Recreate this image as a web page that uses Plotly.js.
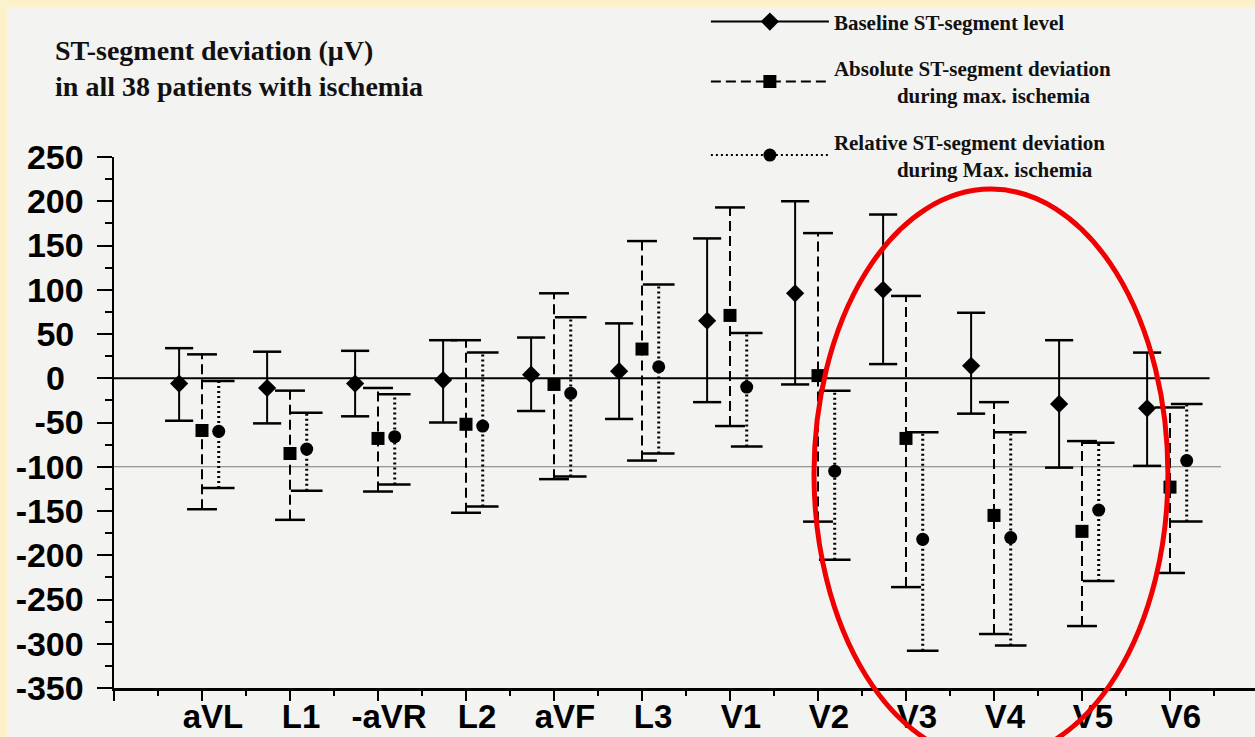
<!DOCTYPE html>
<html><head><meta charset="utf-8">
<script src="https://cdn.plot.ly/plotly-3.0.1.min.js"></script>
<style>
html,body{margin:0;padding:0;background:#fdf1cb;overflow:hidden;}
#chart{position:absolute;left:7px;top:7px;width:1248px;height:730px;}
</style></head>
<body><div id="chart"></div>
<script>
// ---- data (µV) ----
const leads = ['aVL','L1','-aVR','L2','aVF','L3','V1','V2','V3','V4','V5','V6'];
const baselineMean  = [-6, -11, -6, -2, 4, 8, 65, 96, 100, 14, -29, -34];
const baselineUpper = [34, 30, 31, 43, 46, 62, 158, 200, 185, 74, 43, 29];
const baselineLower = [-48, -51, -43, -50, -37, -46, -27, -7, 16, -40, -101, -99];
const absoluteMean  = [-59, -85, -68, -52, -7, 33, 71, 3, -68, -155, -173, -123];
const absoluteUpper = [27, -14, -11, 43, 96, 155, 193, 164, 93, -27, -71, -33];
const absoluteLower = [-148, -160, -128, -152, -114, -93, -54, -162, -236, -289, -280, -220];
const relativeMean  = [-60, -80, -66, -54, -17, 13, -10, -105, -182, -180, -149, -93];
const relativeUpper = [-3, -39, -18, 29, 69, 106, 51, -14, -61, -61, -73, -29];
const relativeLower = [-124, -127, -120, -145, -111, -85, -77, -205, -308, -302, -229, -162];
const yTicks = [-350, -300, -250, -200, -150, -100, -50, 0, 50, 100, 150, 200, 250];
const yTickText = ['-350', '-300', '-250', '-200', '-150', '-100', '-50', '0\u00a0\u00a0', '50\u00a0', '100', '150', '200', '250'];
const legendNames = [
  'Baseline ST-segment level',
  'Absolute ST-segment deviation<br>\u00a0\u00a0\u00a0\u00a0\u00a0\u00a0\u00a0\u00a0\u00a0\u00a0\u00a0\u00a0during max. ischemia',
  'Relative ST-segment deviation<br>\u00a0\u00a0\u00a0\u00a0\u00a0\u00a0\u00a0\u00a0\u00a0\u00a0\u00a0\u00a0during Max. ischemia'
];
const titleText = 'ST-segment deviation (\u03bcV)<br>in all 38 patients with ischemia';

// ---- build traces ----
function seriesTraces(name, mean, up, lo, off, dash, stemW, symbol, size, capHalf) {
  const sx = [], sy = [], cx = [], cy = [], mx = [], my = [];
  leads.forEach((l, i) => {
    const p = i + 1 + off;
    sx.push(p, p, null); sy.push(lo[i], up[i], null);
    cx.push(p - capHalf, p + capHalf, null, p - capHalf, p + capHalf, null);
    cy.push(up[i], up[i], null, lo[i], lo[i], null);
    mx.push(p, null); my.push(mean[i], null);
  });
  return [
    {x: sx, y: sy, type: 'scatter', mode: 'lines', line: {color: '#000', width: stemW, dash: dash},
     showlegend: false, hoverinfo: 'skip', legendgroup: name},
    {x: cx, y: cy, type: 'scatter', mode: 'lines', line: {color: '#000', width: 2.5},
     showlegend: false, hoverinfo: 'skip', legendgroup: name},
    {x: mx, y: my, type: 'scatter', mode: 'lines+markers', name: name, legendgroup: name,
     connectgaps: false, line: {color: '#000', width: 2, dash: dash},
     marker: {symbol: symbol, size: size, color: '#000'}}
  ];
}

const data = [].concat(
  seriesTraces(legendNames[0], baselineMean, baselineUpper, baselineLower, -0.26, 'solid', 2, 'diamond', 14, 0.16),
  seriesTraces(legendNames[1], absoluteMean, absoluteUpper, absoluteLower, 0.0, '10px,5px', 2, 'square', 13, 0.17),
  seriesTraces(legendNames[2], relativeMean, relativeUpper, relativeLower, 0.19, '2px,3px', 3, 'circle', 13, 0.18)
);

const layout = {
  width: 1248, height: 730,
  margin: {l: 107, r: 0, t: 150, b: 49, autoexpand: false},
  paper_bgcolor: '#f3f3f1', plot_bgcolor: '#f3f3f1',
  showlegend: true,
  title: {text: titleText, xref: 'container', yref: 'container', x: 0.0385, xanchor: 'left',
          y: 0.928, yanchor: 'top',
          font: {family: 'Liberation Serif', size: 28, weight: 'bold', color: '#111'}},
  legend: {xref: 'container', yref: 'paper', x: 0.56, y: 1.293, xanchor: 'left', yanchor: 'top',
           font: {family: 'Liberation Serif', size: 21, weight: 'bold', color: '#111'},
           itemwidth: 118, tracegroupgap: 16, bgcolor: 'rgba(0,0,0,0)', traceorder: 'grouped'},
  xaxis: {range: [0, 12.966], tickmode: 'array', tickvals: [0].concat(leads.map((l, i) => i + 1)),
          ticktext: [''].concat(leads), ticks: 'outside', ticklen: 10, tickwidth: 2, tickcolor: '#000',
          ticklabelshift: 11, ticklabelstandoff: -12, tickangle: 0,
          showline: true, linewidth: 2.5, linecolor: '#000', showgrid: false, zeroline: false,
          tickfont: {family: 'Liberation Sans', size: 33, weight: 'bold', color: '#000'},
          minor: {tickmode: 'linear', tick0: 0.5, dtick: 1, ticklen: 5, tickwidth: 2, tickcolor: '#000', showgrid: false}},
  yaxis: {range: [-350, 250], tickmode: 'array', tickvals: yTicks, ticktext: yTickText,
          ticks: 'outside', ticklen: 15, tickwidth: 2, tickcolor: '#000', ticklabelstandoff: 6,
          showline: true, linewidth: 2.5, linecolor: '#000', showgrid: false, zeroline: false,
          tickfont: {family: 'Liberation Sans', size: 34, weight: 'bold', color: '#000'},
          minor: {tickmode: 'linear', tick0: 25, dtick: 50, ticklen: 7, tickwidth: 2, tickcolor: '#000', showgrid: false}},
  shapes: [
    {type: 'line', xref: 'x', yref: 'y', x0: 0, x1: 12.45, y0: 0, y1: 0, layer: 'below',
     line: {color: '#000', width: 2}},
    {type: 'line', xref: 'x', yref: 'y', x0: 0, x1: 12.58, y0: -100, y1: -100, layer: 'below',
     line: {color: '#7a7a7a', width: 1}},
    {type: 'circle', xref: 'paper', yref: 'paper', x0: 0.6135, x1: 0.9237, y0: -0.1337, y1: 0.9397,
     layer: 'above', line: {color: '#f00000', width: 5}}
  ]
};

Plotly.newPlot('chart', data, layout, {displayModeBar: false, staticPlot: true});
</script>
</body></html>
